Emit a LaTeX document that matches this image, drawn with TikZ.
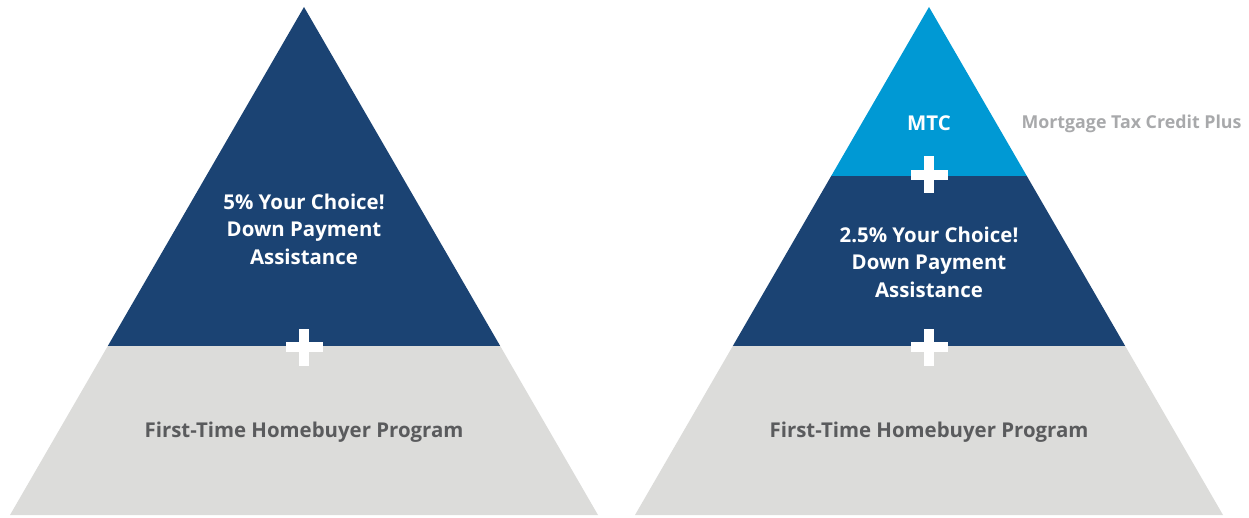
\documentclass[tikz,border=0pt]{standalone}
\usepackage{fontspec}
\setmainfont{Open Sans}
\usetikzlibrary{calc}
\definecolor{navy}{HTML}{1B4373}
\definecolor{sky}{HTML}{0099D4}
\definecolor{stone}{HTML}{DCDCDA}
\definecolor{ink}{HTML}{5A5B5D}
\definecolor{mist}{HTML}{A8A9AB}

\begin{document}
\begin{tikzpicture}[x=1pt,y=-1pt,
  tier/.style={fill=#1,draw=none},
  tierlabel/.style={text=white,font=\bfseries\fontsize{20.4}{27.5}\selectfont,align=center},
  baselabel/.style={text=ink,font=\bfseries\fontsize{20.4}{24}\selectfont},
  sidelabel/.style={text=mist,font=\bfseries\fontsize{17.8}{20}\selectfont,anchor=west},
  plusbar/.style={fill=white,draw=none}]
\useasboundingbox (0,0) rectangle (1249,518);

% corners of the two pyramids
\coordinate (Ltop) at (304,7);
\coordinate (Lbl) at (10,515);
\coordinate (Lbr) at (598,515);
\coordinate (Rtop) at (929,7);
\coordinate (Rbl) at (635,515);
\coordinate (Rbr) at (1223,515);

% band boundaries
\pgfmathsetmacro{\lowcut}{339/508}
\pgfmathsetmacro{\highcut}{169/508}
\coordinate (Lml) at ($(Ltop)!\lowcut!(Lbl)$);
\coordinate (Lmr) at ($(Ltop)!\lowcut!(Lbr)$);
\coordinate (Rml) at ($(Rtop)!\lowcut!(Rbl)$);
\coordinate (Rmr) at ($(Rtop)!\lowcut!(Rbr)$);
\coordinate (Rhl) at ($(Rtop)!\highcut!(Rbl)$);
\coordinate (Rhr) at ($(Rtop)!\highcut!(Rbr)$);

% left pyramid
\fill[tier=stone] (Lml) -- (Lmr) -- (Lbr) -- (Lbl) -- cycle;
\fill[tier=navy] (Ltop) -- (Lmr) -- (Lml) -- cycle;

% right pyramid
\fill[tier=stone] (Rml) -- (Rmr) -- (Rbr) -- (Rbl) -- cycle;
\fill[tier=navy] (Rhl) -- (Rhr) -- (Rmr) -- (Rml) -- cycle;
\fill[tier=sky] (Rtop) -- (Rhr) -- (Rhl) -- cycle;

% plus signs on the seams
\foreach \px/\py in {304/347, 929/347, 929/175} {
  \fill[plusbar] (\px-18.5,\py-4.75) rectangle (\px+18.5,\py+4.75);
  \fill[plusbar] (\px-4.75,\py-18.5) rectangle (\px+4.75,\py+18.5);
}

% labels
\node[tierlabel] (dpaLeft) at (304,229) {5\% Your Choice!\\Down Payment\\Assistance};
\node[baselabel] (fthbLeft) at (304,432) {First-Time Homebuyer Program};
\node[tierlabel] (dpaRight) at (929,262) {2.5\% Your Choice!\\Down Payment\\Assistance};
\node[baselabel] (fthbRight) at (929,432) {First-Time Homebuyer Program};
\node[tierlabel] (mtc) at (929,123) {MTC};
\node[sidelabel] (mtcPlus) at (1018,124) {Mortgage Tax Credit Plus};
\end{tikzpicture}
\end{document}
